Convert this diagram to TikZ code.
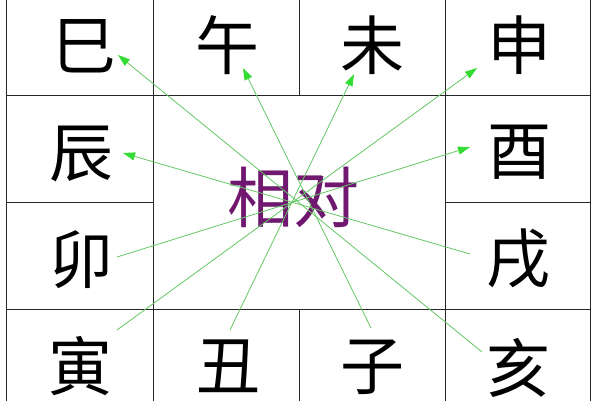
\documentclass[tikz,border=0pt]{standalone}
\usepackage{fontspec}
\newfontfamily\cjk{Noto Sans CJK SC}
\usetikzlibrary{arrows.meta}
\definecolor{linegreen}{RGB}{100,200,100}
\definecolor{headgreen}{RGB}{50,220,50}
\definecolor{relpurple}{RGB}{112,24,112}
\begin{document}
\begin{tikzpicture}[x=1pt,y=-1pt,
  gridline/.style={draw=black!85,line width=0.9pt},
  zhi/.style={font=\cjk\fontsize{64}{64}\selectfont,inner sep=0pt,text=black},
  rel/.style={draw=linegreen,line width=0.8pt,-{Triangle[length=12pt,width=8pt,fill=headgreen,color=headgreen]}}]
\useasboundingbox (0,0) rectangle (600,400);
\fill[white] (0,0) rectangle (600,400);
% grid
\draw[gridline] (6,-5) -- (6,405);
\draw[gridline] (590,-5) -- (590,405);
\draw[gridline] (153,-5) -- (153,405);
\draw[gridline] (445,-5) -- (445,405);
\draw[gridline] (299,-5) -- (299,95);
\draw[gridline] (299,309) -- (299,405);
\draw[gridline] (6,95) -- (590,95);
\draw[gridline] (6,309) -- (590,309);
\draw[gridline] (6,202) -- (153,202);
\draw[gridline] (445,202) -- (590,202);
% branches
\node[zhi] (si)   at (84,46)  {巳};
\node[zhi] (wu)   at (227,45) {午};
\node[zhi] (wei)  at (372,45) {未};
\node[zhi] (shen) at (519,45) {申};
\node[zhi] (chen) at (81,154) {辰};
\node[zhi] (you)  at (519,152){酉};
\node[zhi] (mao)  at (81,260) {卯};
\node[zhi] (xu)   at (518,259){戌};
\node[zhi] (yin)  at (80,366) {寅};
\node[zhi] (chou) at (228,366){丑};
\node[zhi] (zi)   at (372,367){子};
\node[zhi] (hai)  at (518,368){亥};
\node[font=\cjk\fontsize{66}{66}\selectfont,inner sep=0pt,text=relpurple] (xd) at (293,197) {相对};
% connector end points
\coordinate (siP)   at (118,55);
\coordinate (haiP)  at (482,352);
\coordinate (wuP)   at (243,68);
\coordinate (ziP)   at (371,328);
\coordinate (weiP)  at (354,74);
\coordinate (chouP) at (230,330);
\coordinate (shenP) at (477,68);
\coordinate (yinP)  at (117,330);
\coordinate (youP)  at (470,147);
\coordinate (maoP)  at (117,257);
\coordinate (chenP) at (123,153);
\coordinate (xuP)   at (470,254);
\draw[rel] (haiP) -- (siP);
\draw[rel] (ziP) -- (wuP);
\draw[rel] (chouP) -- (weiP);
\draw[rel] (yinP) -- (shenP);
\draw[rel] (maoP) -- (youP);
\draw[rel] (xuP) -- (chenP);
\end{tikzpicture}
\end{document}
